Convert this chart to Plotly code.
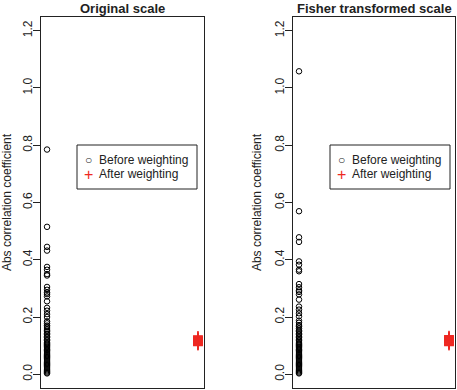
import numpy as np
import plotly.graph_objects as go

# --- data ---
before = [0.785, 0.515, 0.445, 0.432, 0.375, 0.365, 0.35, 0.345, 0.305, 0.295,
          0.285, 0.28, 0.272, 0.255, 0.232, 0.222, 0.21, 0.2, 0.185, 0.178,
          0.17, 0.165, 0.158, 0.152, 0.148, 0.142, 0.138, 0.132, 0.128, 0.122,
          0.118, 0.112, 0.108, 0.104, 0.1, 0.096, 0.092, 0.088, 0.085, 0.082,
          0.078, 0.074, 0.07, 0.066, 0.062, 0.058, 0.054, 0.05, 0.046, 0.042,
          0.038, 0.034, 0.03, 0.026, 0.022, 0.018, 0.014, 0.01, 0.006, 0.003]
after = [0.134, 0.132, 0.130, 0.128, 0.127, 0.125, 0.124, 0.122, 0.121, 0.120,
         0.118, 0.117, 0.116, 0.114, 0.113, 0.112, 0.110, 0.109, 0.108, 0.106,
         0.105, 0.103, 0.102, 0.100]
panel_titles = ["Original scale", "Fisher transformed scale"]
legend_labels = ["Before weighting", "After weighting"]
y_ticks = [0.0, 0.2, 0.4, 0.6, 0.8, 1.0, 1.2]
y_ticktext = ["0.0", "0.2", "0.4", "0.6", "0.8", "1.0", "1.2"]
x_groups = [1, 2]

W, H = 457, 390
RED = "rgb(238,40,34)"
FONT = "Liberation Sans, Arial, sans-serif"

panels = [
    (np.array(before), np.array(after)),
    (np.arctanh(np.array(before)), np.arctanh(np.array(after))),
]
xdom = [[41 / W, 204 / W], [293 / W, 455 / W]]
ydom = [1 - 388 / H, 1 - 17 / H]

fig = go.Figure()
for i, (b, a) in enumerate(panels):
    sfx = "" if i == 0 else "2"
    fig.add_trace(go.Scatter(
        x=[x_groups[0]] * len(b), y=b, mode="markers",
        marker=dict(symbol="circle-open", size=5.5, color="black",
                    line=dict(width=1, color="black")),
        xaxis="x" + sfx, yaxis="y" + sfx, showlegend=False,
        name=legend_labels[0]))
    fig.add_trace(go.Scatter(
        x=[x_groups[1]] * len(a), y=a, mode="markers",
        marker=dict(symbol="cross-thin-open", size=7, color=RED,
                    line=dict(width=1.3, color=RED)),
        xaxis="x" + sfx, yaxis="y" + sfx, showlegend=False,
        name=legend_labels[1]))

axis_common = dict(showline=True, linecolor="#222", linewidth=1, mirror=True,
                   showgrid=False, zeroline=False)
layout = dict(
    width=W, height=H, margin=dict(l=0, r=0, t=0, b=0),
    paper_bgcolor="white", plot_bgcolor="white",
    font=dict(family=FONT, size=12, color="#222"),
    showlegend=False,
)
for i in range(2):
    sfx = "" if i == 0 else "2"
    layout["xaxis" + sfx] = dict(domain=xdom[i], range=[0.96, 2.04],
                                 showticklabels=False, ticks="",
                                 anchor="y" + sfx, **axis_common)
    layout["yaxis" + sfx] = dict(domain=ydom, range=[-0.048, 1.248],
                                 tickvals=y_ticks, ticktext=y_ticktext,
                                 ticks="outside", ticklen=7, tickcolor="#222",
                                 tickangle=-90, tickfont=dict(size=12),
                                 ticklabelstandoff=-4,
                                 title=dict(text="Abs correlation coefficient",
                                            font=dict(size=12), standoff=9),
                                 anchor="x" + sfx, **axis_common)
fig.update_layout(**layout)

annotations = []
shapes = []
for i in range(2):
    xc = (xdom[i][0] + xdom[i][1]) / 2
    annotations.append(dict(text="<b>" + panel_titles[i] + "</b>", x=xc, y=1 - 8 / H,
                            xref="paper", yref="paper", showarrow=False,
                            xanchor="center", yanchor="middle",
                            font=dict(size=13, color="#222")))
    # legend box
    lx0 = [77, 330][i]
    ly0, ly1 = 145, 189
    shapes.append(dict(type="rect", xref="paper", yref="paper",
                       x0=lx0 / W, x1=(lx0 + 120) / W, y0=1 - ly1 / H, y1=1 - ly0 / H,
                       line=dict(color="#222", width=1), fillcolor="white"))
    for j, (sym, col) in enumerate([("○", "#222"), ("+", RED)]):
        yy = 1 - (160 + j * 14) / H
        annotations.append(dict(text=sym, x=(lx0 + 11) / W, y=yy, xref="paper", yref="paper",
                                showarrow=False, xanchor="center", yanchor="middle",
                                font=dict(size=[12, 16][j], color=col)))
        annotations.append(dict(text=legend_labels[j], x=(lx0 + 20) / W, y=yy,
                                xref="paper", yref="paper", showarrow=False,
                                xanchor="left", yanchor="middle",
                                font=dict(size=12, color="#222")))
fig.update_layout(annotations=annotations, shapes=shapes)

fig.write_html("out.html", config={"displayModeBar": False},
               post_script="document.body.style.margin='0';document.body.style.overflow='hidden';")
